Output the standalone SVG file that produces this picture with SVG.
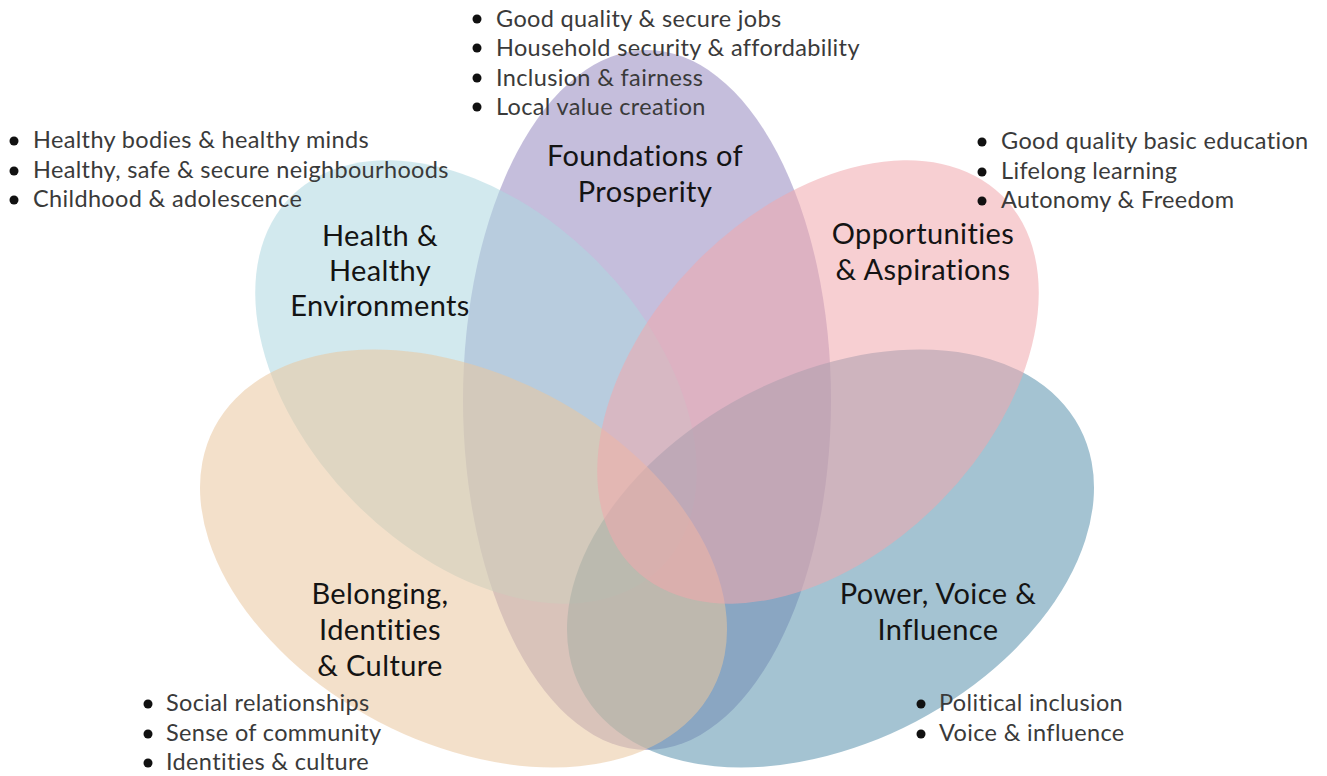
<svg xmlns="http://www.w3.org/2000/svg" width="1327" height="776" viewBox="0 0 1327 776">
<style>
.petal{fill-opacity:0.55;stroke:none}
.title{font-family:Lato,"Liberation Sans",sans-serif;font-size:29px;fill:#141414;text-anchor:middle;letter-spacing:0.4px}
.item{font-family:Lato,"Liberation Sans",sans-serif;font-size:23.5px;fill:#3a3a3a;letter-spacing:0.35px}
.dot{fill:#111}
</style>
<rect width="1327" height="776" fill="#ffffff"/>
<g id="connectors"/>
<g id="foundations">
<ellipse class="petal" cx="647" cy="400" rx="184" ry="350" fill="#9589c0"/>
<text class="title" x="645" y="166">Foundations of</text>
<text class="title" x="645" y="202">Prosperity</text>
<circle class="dot" cx="477" cy="19" r="4.5"/><text class="item" x="496" y="27">Good quality &amp; secure jobs</text>
<circle class="dot" cx="477" cy="48" r="4.5"/><text class="item" x="496" y="56">Household security &amp; affordability</text>
<circle class="dot" cx="477" cy="78" r="4.5"/><text class="item" x="496" y="86">Inclusion &amp; fairness</text>
<circle class="dot" cx="477" cy="107" r="4.5"/><text class="item" x="496" y="115">Local value creation</text>
</g>
<g id="health">
<ellipse class="petal" cx="476" cy="382" rx="262" ry="171" transform="rotate(45.3 476 382)" fill="#add7e0"/>
<text class="title" x="380" y="246">Health &amp;</text>
<text class="title" x="380" y="281">Healthy</text>
<text class="title" x="380" y="316">Environments</text>
<circle class="dot" cx="14" cy="141" r="4.5"/><text class="item" x="33" y="148">Healthy bodies &amp; healthy minds</text>
<circle class="dot" cx="14" cy="171" r="4.5"/><text class="item" x="33" y="178">Healthy, safe &amp; secure neighbourhoods</text>
<circle class="dot" cx="14" cy="200" r="4.5"/><text class="item" x="33" y="207">Childhood &amp; adolescence</text>
</g>
<g id="power">
<ellipse class="petal" cx="830.5" cy="558.5" rx="281.5" ry="184" transform="rotate(-27.7 830.5 558.5)" fill="#5a92ad"/>
<text class="title" x="938" y="604">Power, Voice &amp;</text>
<text class="title" x="938" y="640">Influence</text>
<circle class="dot" cx="921" cy="704" r="4.5"/><text class="item" x="939" y="711">Political inclusion</text>
<circle class="dot" cx="921" cy="734" r="4.5"/><text class="item" x="939" y="741">Voice &amp; influence</text>
</g>
<g id="belonging">
<ellipse class="petal" cx="463.5" cy="558.5" rx="281.5" ry="184" transform="rotate(27.7 463.5 558.5)" fill="#e9c79e"/>
<text class="title" x="380" y="604">Belonging,</text>
<text class="title" x="380" y="640">Identities</text>
<text class="title" x="380" y="676">&amp; Culture</text>
<circle class="dot" cx="148" cy="704" r="4.5"/><text class="item" x="166" y="711">Social relationships</text>
<circle class="dot" cx="148" cy="734" r="4.5"/><text class="item" x="166" y="741">Sense of community</text>
<circle class="dot" cx="148" cy="763" r="4.5"/><text class="item" x="166" y="770">Identities &amp; culture</text>
</g>
<g id="opportunities">
<ellipse class="petal" cx="818" cy="382" rx="262" ry="171" transform="rotate(-45.3 818 382)" fill="#f1a8ad"/>
<text class="title" x="923" y="244">Opportunities</text>
<text class="title" x="923" y="280">&amp; Aspirations</text>
<circle class="dot" cx="982" cy="142" r="4.5"/><text class="item" x="1001" y="149">Good quality basic education</text>
<circle class="dot" cx="982" cy="172" r="4.5"/><text class="item" x="1001" y="179">Lifelong learning</text>
<circle class="dot" cx="982" cy="201" r="4.5"/><text class="item" x="1001" y="208">Autonomy &amp; Freedom</text>
</g>
</svg>
